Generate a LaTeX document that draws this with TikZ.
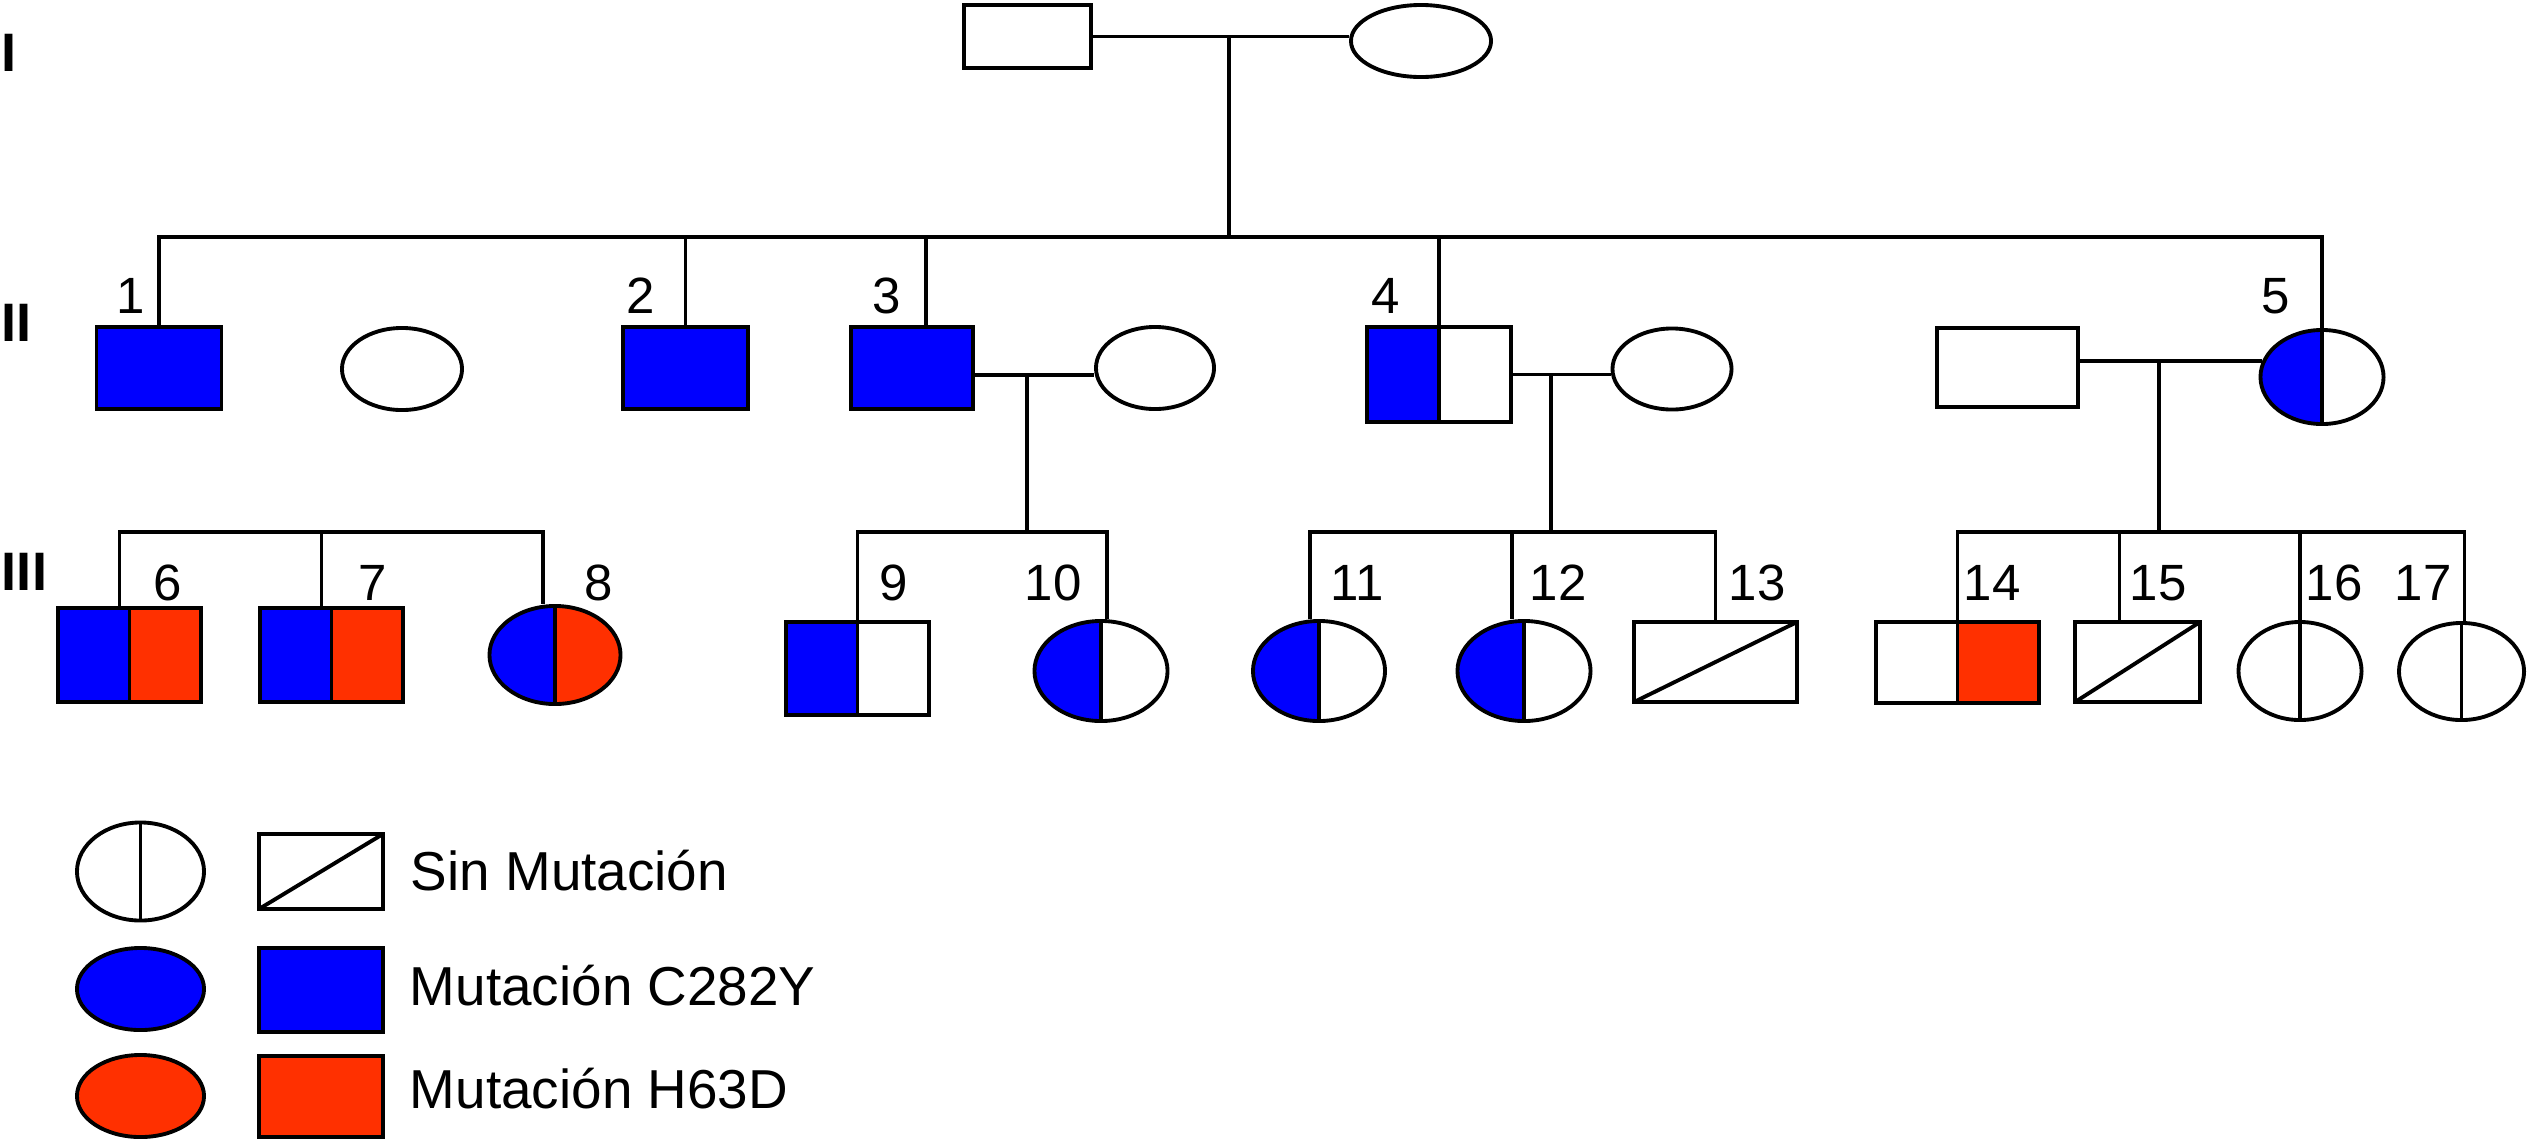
\documentclass[tikz,border=0pt]{standalone}
\usepackage{fontspec}
\setmainfont{Liberation Sans}
\usetikzlibrary{shapes.geometric}

\definecolor{cblue}{RGB}{0,0,255}
\definecolor{cred}{RGB}{255,48,0}

\begin{document}
\begin{tikzpicture}[
        x=0.01cm, y=-0.01cm, line width=1.1pt,
        sq/.style 2 args={draw, rectangle, inner sep=0pt, minimum width=#1cm, minimum height=#2cm},
        ov/.style 2 args={draw, ellipse, inner sep=0pt, minimum width=#1cm, minimum height=#2cm},
        half/.style 2 args={path picture={
            \fill[#1] (path picture bounding box.north west) rectangle (path picture bounding box.south);
            \fill[#2] (path picture bounding box.north) rectangle (path picture bounding box.south east);
            \draw (path picture bounding box.north) -- (path picture bounding box.south);}},
        nomut/.style={path picture={\draw (path picture bounding box.south west) -- (path picture bounding box.north east);}},
        num/.style={font=\fontsize{14.5}{17}\selectfont, inner sep=0pt},
        gen/.style={font=\fontsize{15.4}{18}\selectfont\bfseries, inner sep=0pt, anchor=west},
        leg/.style={font=\fontsize{15.6}{19}\selectfont, inner sep=0pt, anchor=base west}
        ]
        \useasboundingbox (0,0) rectangle (2528,1139);

        \node[gen] (gI) at (0,53) {I};
        \node[gen] (gII) at (0,323) {II};
        \node[gen] (gIII) at (0,572) {III};

        \node[sq={1.27}{0.63}] (pI) at (1027.5,36.5) {};
        \node[ov={1.40}{0.72}] (mI) at (1421,41) {};

        \node[sq={1.25}{0.82}, fill=cblue] (n1) at (159,368) {};
        \node[ov={1.20}{0.82}] (w1) at (402,369) {};
        \node[sq={1.25}{0.82}, fill=cblue] (n2) at (685.5,368) {};
        \node[sq={1.22}{0.82}, fill=cblue] (n3) at (912,368) {};
        \node[ov={1.18}{0.82}] (w3) at (1155,368) {};
        \node[sq={1.44}{0.95}, half={cblue}{white}] (n4) at (1439,374.5) {};
        \node[ov={1.19}{0.81}] (w4) at (1672,369) {};
        \node[sq={1.41}{0.79}] (h5) at (2007.5,367.5) {};
        \node[ov={1.23}{0.94}, half={cblue}{white}] (n5) at (2322,377) {};

        \node[sq={1.43}{0.94}, half={cblue}{cred}] (n6) at (129.5,655) {};
        \node[sq={1.43}{0.94}, half={cblue}{cred}] (n7) at (331.5,655) {};
        \node[ov={1.31}{0.98}, half={cblue}{cred}] (n8) at (555,655) {};
        \node[sq={1.43}{0.93}, half={cblue}{white}] (n9) at (857.5,668.5) {};
        \node[ov={1.33}{1.00}, half={cblue}{white}] (n10) at (1101,671) {};
        \node[ov={1.32}{1.00}, half={cblue}{white}] (n11) at (1319,671) {};
        \node[ov={1.33}{1.00}, half={cblue}{white}] (n12) at (1524,671) {};
        \node[sq={1.63}{0.80}, nomut] (n13) at (1715.5,662) {};
        \node[sq={1.63}{0.81}, half={white}{cred}] (n14) at (1957.5,662.5) {};
        \node[sq={1.25}{0.80}, nomut] (n15) at (2137.5,662) {};
        \node[ov={1.23}{0.98}, half={white}{white}] (n16) at (2300,671) {};
        \node[ov={1.25}{0.97}, half={white}{white}] (n17) at (2461.5,671.5) {};

        \node[num] (l1) at (131,296) {1};
        \node[num] (l2) at (641,296) {2};
        \node[num] (l3) at (887,296) {3};
        \node[num] (l4) at (1386,296) {4};
        \node[num] (l5) at (2276,296) {5};
        \node[num] (l6) at (168,583) {6};
        \node[num] (l7) at (373,583) {7};
        \node[num] (l8) at (599,583) {8};
        \node[num] (l9) at (894,583) {9};
        \node[num] (l10) at (1053,583) {10};
        \node[num] (l11) at (1357,583) {11};
        \node[num] (l12) at (1558,583) {12};
        \node[num] (l13) at (1757,583) {13};
        \node[num] (l14) at (1992,583) {14};
        \node[num] (l15) at (2158,583) {15};
        \node[num] (l16) at (2334,583) {16};
        \node[num] (l17) at (2423,583) {17};

        \coordinate (cI) at (1229,36.5);
        \coordinate (m3) at (1027,375);
        \coordinate (m4) at (1551,374.5);
        \coordinate (m5) at (2159,361.5);
        \coordinate (sII) at (0,237);
        \coordinate (sIII) at (0,532);

        \coordinate (d3) at ([xshift=0.14cm]n3.north);
        \coordinate (d6) at ([xshift=-0.10cm]n6.north);
        \coordinate (d7) at ([xshift=-0.10cm]n7.north);
        \coordinate (d8) at ([xshift=-0.12cm]n8.north);
        \coordinate (d10) at ([xshift=0.06cm]n10.north);
        \coordinate (d11) at ([xshift=-0.09cm]n11.north);
        \coordinate (d12) at ([xshift=-0.12cm]n12.north);
        \coordinate (d15) at ([xshift=-0.18cm]n15.north);
        \coordinate (d17) at ([xshift=0.03cm]n17.north);

        \draw (pI.east) -- (pI.east -| mI.west);
        \draw (cI) -- (cI |- sII);
        \draw (n1.north) -- (n1.north |- sII) -- (n5.north |- sII) -- (n5.north);
        \draw (n2.north) -- (n2.north |- sII);
        \draw (d3) -- (d3 |- sII);
        \draw (n4.north) -- (n4.north |- sII);

        \draw (n3.east |- m3) -- (m3 -| w3.west);
        \draw (n4.east) -- (n4.east -| w4.west);
        \draw (h5.east |- n5.165) -- (n5.165);

        \draw (d6) -- (d6 |- sIII) -- (d8 |- sIII) -- (d8);
        \draw (d7) -- (d7 |- sIII);
        \draw (m3) -- (m3 |- sIII);
        \draw (n9.north) -- (n9.north |- sIII) -- (d10 |- sIII) -- (d10);
        \draw (m4) -- (m4 |- sIII);
        \draw (d11) -- (d11 |- sIII) -- (n13.north |- sIII) -- (n13.north);
        \draw (d12) -- (d12 |- sIII);
        \draw (m5) -- (m5 |- sIII);
        \draw (n14.north) -- (n14.north |- sIII) -- (d17 |- sIII) -- (d17);
        \draw (d15) -- (d15 |- sIII);
        \draw (n16.north) -- (n16.north |- sIII);

        \node[ov={1.27}{0.98}, half={white}{white}] (k1o) at (140.5,871.5) {};
        \node[sq={1.24}{0.75}, nomut] (k1s) at (321,871.5) {};
        \node[leg] (k1t) at (409,890) {Sin Mutación};
        \node[ov={1.27}{0.82}, fill=cblue] (k2o) at (140.5,989) {};
        \node[sq={1.24}{0.84}, fill=cblue] (k2s) at (321,990) {};
        \node[leg] (k2t) at (408,1005) {Mutación C282Y};
        \node[ov={1.27}{0.82}, fill=cred] (k3o) at (140.5,1096) {};
        \node[sq={1.24}{0.81}, fill=cred] (k3s) at (321,1096.5) {};
        \node[leg] (k3t) at (408,1108) {Mutación H63D};
    \end{tikzpicture}
\end{document}
